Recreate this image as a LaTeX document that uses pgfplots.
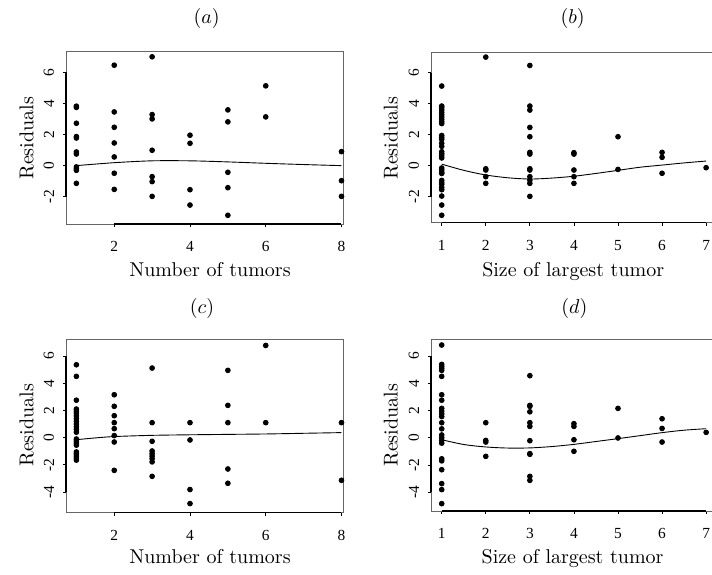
\documentclass[border=0pt]{standalone}
\usepackage{fontspec}
\usepackage{pgfplots}
\pgfplotsset{compat=1.18}
\newfontfamily\tickfont{Liberation Serif}
\tikzset{axblk/.style={black, line width=0.75pt}}
\pgfplotsset{
  rpanel/.style={
    scale only axis,
    anchor=south west,
    clip=false,
    axis line style={black!60, line width=0.5pt},
    tick align=outside,
    major tick length=1.5pt,
    tick style={black, line width=0.4pt},
    xtick pos=bottom, ytick pos=left,
    ticklabel style={font=\tickfont\fontsize{7.7}{8}\selectfont, inner sep=0pt},
    xticklabel style={anchor=north},
    xticklabel shift=7.0pt,
    yticklabel style={rotate=90, anchor=south},
    yticklabel shift=4.3pt,
  },
  dots/.style={only marks, mark=*, mark size=1.2pt, black},
  fit/.style={black, line width=0.45pt, smooth, no marks},
}
\begin{document}
\begin{tikzpicture}
\path[use as bounding box, clip] (0pt,0pt) rectangle (356pt,287pt);
% ---------------- (a)
\begin{axis}[rpanel, at={(33pt,175pt)}, width=138.5pt, height=86pt,
  xmin=0.726, xmax=8.04, ymin=-3.76, ymax=7.32,
  xtick={2,4,6,8}, xticklabels={2,4,6,8},
  ytick={-2,0,2,4,6}, yticklabels={-2,0,2,4,6}]
\addplot[dots] coordinates {
(1,3.83)(1,3.75)(1,2.73)(1,1.87)(1,1.78)(1,0.88)(1,0.75)(1,-0.08)(1,-0.2)(1,-0.3)(1,-1.14)
(2,6.47)(2,3.46)(2,2.47)(2,1.46)(2,0.56)(2,-0.49)(2,-1.53)
(3,7.01)(3,3.29)(3,3.01)(3,0.99)(3,-0.71)(3,-1.03)(3,-1.98)
(4,1.96)(4,1.44)(4,-1.55)(4,-2.54)
(5,3.59)(5,2.82)(5,-0.43)(5,-1.42)(5,-3.2)
(6,5.14)(6,3.14)
(8,0.9)(8,-0.97)(8,-1.98)};
\addplot[fit] coordinates {(1,0.0)(2,0.19)(3,0.31)(4,0.31)(5,0.24)(6,0.15)(7,0.07)(8,0.0)};
\draw[axblk] (axis cs:0.726,-2) -- (axis cs:0.726,6);
\draw[axblk] (axis cs:2,-3.76) -- (axis cs:8,-3.76);
\end{axis}
% ---------------- (b)
\begin{axis}[rpanel, at={(215.5pt,175.65pt)}, width=142.85pt, height=85.2pt,
  xmin=0.757, xmax=7.24, ymin=-3.68, ymax=7.32,
  xtick={1,2,3,4,5,6,7}, xticklabels={1,2,3,4,5,6,7},
  ytick={-2,0,2,4,6}, yticklabels={-2,0,2,4,6}]
\addplot[dots] coordinates {
(1,5.14)(1,3.85)(1,3.75)(1,3.6)(1,3.45)(1,3.3)(1,3.15)(1,3.0)(1,2.85)(1,2.72)
(1,1.95)(1,1.82)(1,1.7)(1,1.45)(1,1.25)(1,0.9)(1,0.78)(1,0.65)(1,0.5)
(1,-0.15)(1,-0.28)(1,-0.42)(1,-0.5)(1,-0.95)(1,-1.1)(1,-1.2)(1,-1.4)(1,-1.55)(1,-1.96)(1,-2.54)(1,-3.2)
(2,7.01)(2,-0.2)(2,-0.28)(2,-0.71)(2,-1.14)
(3,6.47)(3,3.85)(3,3.59)(3,2.47)(3,1.87)(3,0.86)(3,0.75)(3,-0.2)(3,-0.28)(3,-0.71)(3,-0.93)(3,-1.14)(3,-1.98)
(4,0.84)(4,0.75)(4,-0.28)(4,-0.71)(4,-1.14)
(5,1.87)(5,-0.24)
(6,0.86)(6,0.54)(6,-0.49)
(7,-0.13)};
\addplot[fit] coordinates {(1,0.1)(1.5,-0.3)(2,-0.6)(2.5,-0.78)(3,-0.86)(3.5,-0.8)(4,-0.68)(4.5,-0.5)(5,-0.3)(5.5,-0.1)(6,0.04)(6.5,0.18)(7,0.3)};
\draw[axblk] (axis cs:0.757,-2) -- (axis cs:0.757,6);
\draw[axblk] (axis cs:1,-3.68) -- (axis cs:7,-3.68);
\end{axis}
% ---------------- (c)
\begin{axis}[rpanel, at={(33pt,30.65pt)}, width=138.5pt, height=86.7pt,
  xmin=0.726, xmax=8.04, ymin=-5.51, ymax=7.22,
  xtick={2,4,6,8}, xticklabels={2,4,6,8},
  ytick={-4,-2,0,2,4,6}, yticklabels={-4,-2,0,2,4,6}]
\addplot[dots] coordinates {
(1,5.35)(1,4.5)(1,2.75)(1,2.1)(1,1.95)(1,1.8)(1,1.6)(1,1.4)(1,1.2)(1,1.0)(1,0.8)(1,0.6)(1,0.4)
(1,-0.1)(1,-0.25)(1,-0.4)(1,-0.55)(1,-1.05)(1,-1.2)(1,-1.35)(1,-1.5)(1,-1.65)
(2,3.15)(2,2.3)(2,1.61)(2,1.1)(2,0.66)(2,0.15)(2,-0.32)(2,-2.4)
(3,5.11)(3,1.1)(3,-0.27)(3,-0.98)(3,-1.17)(3,-1.35)(3,-1.54)(3,-1.78)(3,-2.84)
(4,1.1)(4,-0.17)(4,-3.81)(4,-4.84)
(5,4.94)(5,2.37)(5,1.1)(5,-2.3)(5,-3.35)
(6,6.77)(6,1.1)
(8,1.1)(8,-3.13)};
\addplot[fit] coordinates {(1,-0.15)(1.5,-0.02)(2,0.08)(3,0.17)(4,0.21)(5,0.24)(6,0.27)(7,0.32)(8,0.37)};
\draw[axblk] (axis cs:0.726,-4) -- (axis cs:0.726,6);
\draw[axblk] (axis cs:2,-5.51) -- (axis cs:8,-5.51);
\end{axis}
% ---------------- (d)
\begin{axis}[rpanel, at={(215.5pt,31.5pt)}, width=142.85pt, height=85.85pt,
  xmin=0.757, xmax=7.24, ymin=-5.38, ymax=7.22,
  xtick={1,2,3,4,5,6,7}, xticklabels={1,2,3,4,5,6,7},
  ytick={-4,-2,0,2,4,6}, yticklabels={-4,-2,0,2,4,6}]
\addplot[dots] coordinates {
(1,6.8)(1,5.38)(1,5.23)(1,5.09)(1,4.94)(1,4.5)(1,3.15)(1,2.75)(1,2.15)(1,1.95)(1,1.75)(1,1.55)(1,1.1)(1,0.65)
(1,0.2)(1,0.0)(1,-0.2)(1,-0.4)(1,-1.55)(1,-1.7)(1,-2.35)(1,-3.37)(1,-3.81)(1,-4.84)
(2,1.1)(2,-0.2)(2,-0.32)(2,-1.37)
(3,4.55)(3,2.37)(3,2.3)(3,1.9)(3,1.1)(3,0.83)(3,-0.22)(3,-1.17)(3,-1.22)(3,-2.84)(3,-3.13)
(4,1.03)(4,0.83)(4,-0.15)(4,-1.0)
(5,2.15)(5,-0.02)
(6,1.39)(6,0.68)(6,-0.32)
(7,0.39)};
\addplot[fit] coordinates {(1,-0.15)(1.5,-0.5)(2,-0.68)(2.5,-0.76)(3,-0.75)(3.5,-0.65)(4,-0.49)(4.5,-0.28)(5,-0.07)(5.5,0.15)(6,0.37)(6.5,0.55)(7,0.66)};
\draw[axblk] (axis cs:0.757,-4) -- (axis cs:0.757,6);
\draw[axblk] (axis cs:1,-5.38) -- (axis cs:7,-5.38);
\end{axis}
% ---------------- titles and labels
\node[anchor=base] at (103.3pt,275.3pt) {$(a)$};
\node[anchor=base] at (286.3pt,275.3pt) {$(b)$};
\node[anchor=base] at (101pt,130.2pt) {$(c)$};
\node[anchor=base] at (287.2pt,130.2pt) {$(d)$};
\node[anchor=base] at (105pt,149pt) {Number of tumors};
\node[anchor=base] at (286.6pt,149pt) {Size of largest tumor};
\node[anchor=base] at (105pt,5.5pt) {Number of tumors};
\node[anchor=base] at (286.3pt,5.5pt) {Size of largest tumor};
\node[anchor=base, rotate=90] at (16.7pt,217.85pt) {Residuals};
\node[anchor=base, rotate=90] at (198.8pt,217.85pt) {Residuals};
\node[anchor=base, rotate=90] at (16.7pt,74.35pt) {Residuals};
\node[anchor=base, rotate=90] at (198.8pt,74.35pt) {Residuals};
\end{tikzpicture}
\end{document}
